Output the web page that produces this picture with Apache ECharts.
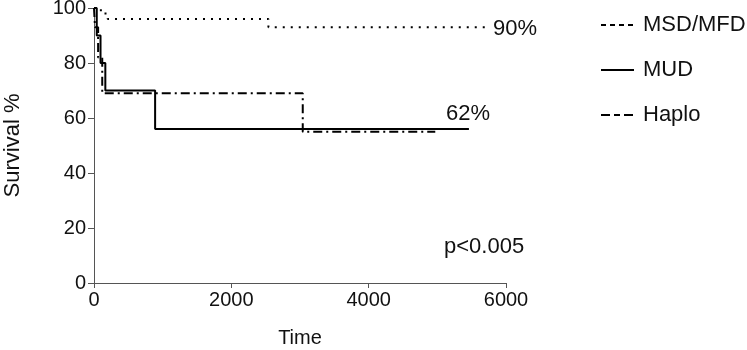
<!DOCTYPE html>
<html><head><meta charset="utf-8">
<script src="https://cdn.jsdelivr.net/npm/echarts@6/dist/echarts.min.js"></script>
<style>html,body{margin:0;padding:0;background:#fff}#c{width:747px;height:350px}</style>
</head><body><div id="c"></div>
<script>
const seriesNames = ['MSD/MFD', 'MUD', 'Haplo'];
const msdTimes = [0, 100, 200, 2540, 5770];
const msdSurv  = [100, 98, 96, 93, 93];
const mudTimes = [0, 40, 95, 165, 890, 5460];
const mudSurv  = [100, 90, 80, 70, 56, 56];
const haploTimes = [0, 15, 60, 120, 3040, 4970];
const haploSurv  = [100, 93, 82, 69, 55, 55];
const xTicks = [0, 2000, 4000, 6000];
const yTicks = [0, 20, 40, 60, 80, 100];
const annotations = ['90%', '62%', 'p<0.005'];

const pair = (t, s) => t.map((v, i) => [v, s[i]]);
const font = 'Liberation Sans';
const styles = [
  {type: [2, 6], width: 2},
  {type: 'solid', width: 2},
  {type: [9, 4, 2, 4], width: 2}
];
const chart = echarts.init(document.getElementById('c'), null, {renderer: 'canvas'});
chart.setOption({
  animation: false,
  grid: {left: 94, right: 241, top: 8, bottom: 67, containLabel: false, outerBoundsMode: 'none'},
  xAxis: {
    type: 'value', min: xTicks[0], max: xTicks[xTicks.length - 1], interval: 2000,
    name: 'Time', nameLocation: 'middle', nameGap: 45,
    nameTextStyle: {fontFamily: font, fontSize: 20, color: '#111'},
    axisLine: {lineStyle: {color: '#555', width: 1}},
    axisTick: {show: true, length: 5, lineStyle: {color: '#555'}},
    axisLabel: {fontFamily: font, fontSize: 20, color: '#111', margin: 7, formatter: v => String(v)},
    splitLine: {show: false}
  },
  yAxis: {
    type: 'value', min: yTicks[0], max: yTicks[yTicks.length - 1], interval: 20,
    name: 'Survival %', nameLocation: 'middle', nameGap: 70,
    nameTextStyle: {fontFamily: font, fontSize: 22, color: '#111'},
    axisLine: {show: true, lineStyle: {color: '#555', width: 1}},
    axisTick: {show: true, length: 6, lineStyle: {color: '#555'}},
    axisLabel: {fontFamily: font, fontSize: 20, color: '#111', margin: 8, formatter: v => String(v)},
    splitLine: {show: false}
  },
  legend: {
    orient: 'vertical', left: 595, top: 9, itemWidth: 33, itemHeight: 14, itemGap: 23,
    textStyle: {fontFamily: font, fontSize: 22, color: '#111', padding: [0, 0, 0, 4]},
    itemStyle: {opacity: 0},
    data: [
      {name: seriesNames[0], lineStyle: {type: [5, 4], width: 2, color: '#000'}},
      {name: seriesNames[1], lineStyle: {type: 'solid', width: 2, color: '#000'}},
      {name: seriesNames[2], lineStyle: {type: [9, 4, 6, 4], width: 2, color: '#000'}}
    ]
  },
  series: [
    {name: seriesNames[0], type: 'line', step: 'end', symbol: 'none', data: pair(msdTimes, msdSurv), lineStyle: Object.assign({color: '#000'}, styles[0]), itemStyle: {color: '#000'}},
    {name: seriesNames[1], type: 'line', step: 'end', symbol: 'none', data: pair(mudTimes, mudSurv), lineStyle: Object.assign({color: '#000'}, styles[1]), itemStyle: {color: '#000'}},
    {name: seriesNames[2], type: 'line', step: 'end', symbol: 'none', data: pair(haploTimes, haploSurv), lineStyle: Object.assign({color: '#000'}, styles[2]), itemStyle: {color: '#000'}}
  ],
  graphic: [
    {type: 'text', left: 493, top: 18, style: {text: annotations[0], font: '22px "Liberation Sans"', fill: '#111'}},
    {type: 'text', left: 446, top: 103, style: {text: annotations[1], font: '22px "Liberation Sans"', fill: '#111'}},
    {type: 'text', left: 444, top: 236, style: {text: annotations[2], font: '22px "Liberation Sans"', fill: '#111'}}
  ]
});
</script></body></html>
